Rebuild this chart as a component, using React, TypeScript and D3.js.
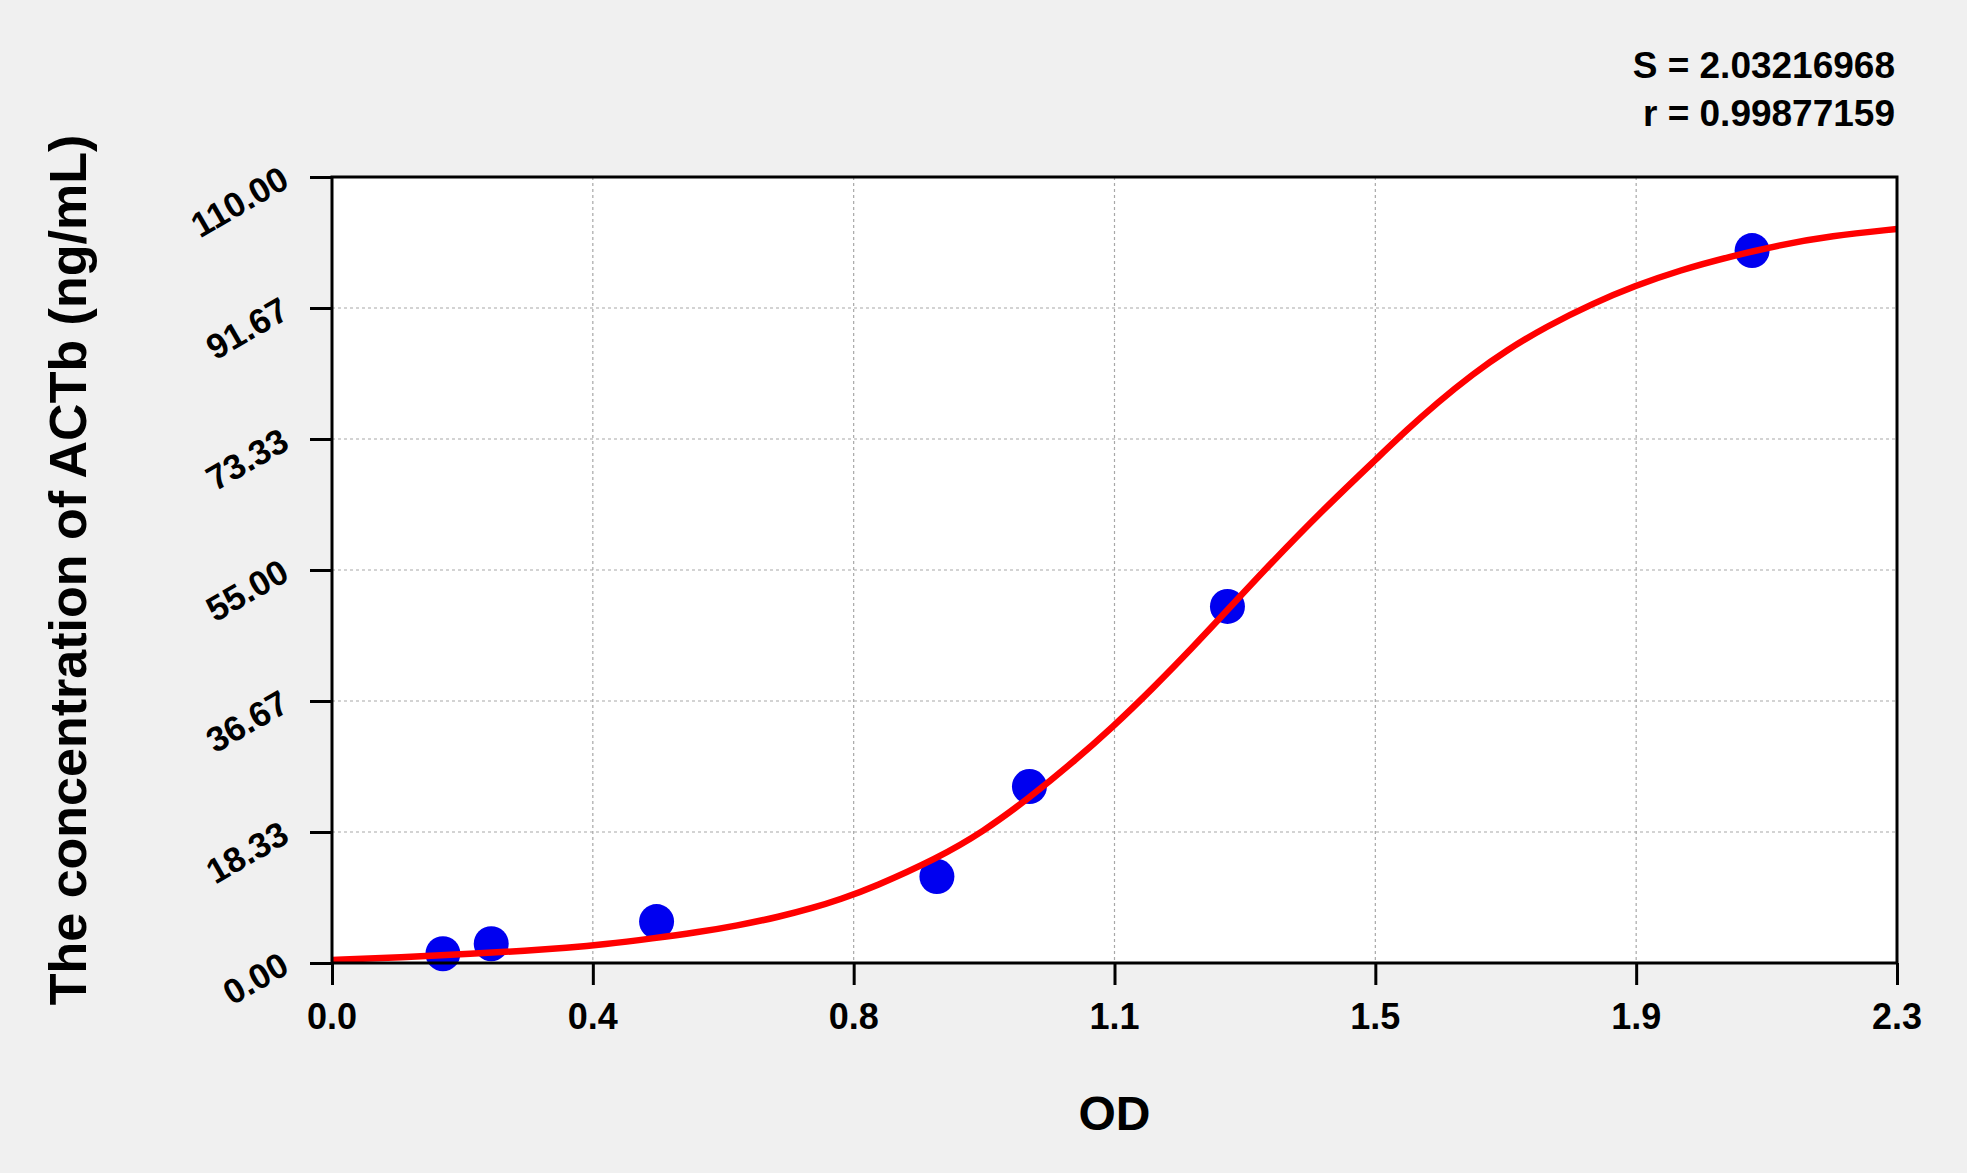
import React, { useEffect, useRef } from "react";
import * as d3 from "d3";

// standards (OD, concentration)
const standardOD = [0.163, 0.234, 0.477, 0.889, 1.025, 1.316, 2.087];
const standardConc = [1.3, 2.7, 5.8, 12.1, 24.7, 49.9, 99.7];

// fitted curve
const curveOD = [
    0.0, 0.1, 0.208, 0.286, 0.345, 0.399, 0.472, 0.536, 0.595, 0.658, 0.707,
    0.747, 0.796, 0.889, 0.957, 1.025, 1.089, 1.147, 1.207, 1.266, 1.315,
    1.374, 1.456, 1.54, 1.579, 1.624, 1.677, 1.726, 1.785, 1.854, 1.915,
    1.981, 2.055, 2.128, 2.202, 2.3,
];
const curveConc = [
    0.42, 0.8, 1.29, 1.72, 2.13, 2.59, 3.45, 4.28, 5.22, 6.48, 7.71,
    8.91, 10.62, 14.62, 18.36, 23.12, 28.1, 32.98, 38.5, 44.28, 49.28,
    55.36, 63.4, 71.0, 74.55, 78.38, 82.46, 85.74, 89.1, 92.34, 94.78,
    96.96, 98.88, 100.49, 101.75, 102.73,
];

const xTickLabels = ["0.0", "0.4", "0.8", "1.1", "1.5", "1.9", "2.3"];
const yTickLabels = ["0.00", "18.33", "36.67", "55.00", "73.33", "91.67", "110.00"];
const statLines = ["S = 2.03216968", "r = 0.99877159"];

const W = 1967;
const H = 1173;
const FONT = "'Liberation Sans', Arial, sans-serif";

const App: React.FC = () => {
    const svgRef = useRef<SVGSVGElement>(null);

    useEffect(() => {
        if (!svgRef.current) return;
        const svg = d3.select(svgRef.current);
        svg.selectAll("*").remove();

        const left = 332, right = 1897, top = 177, bottom = 963;
        const xMax = 2.3, yMax = 110;

        const x = d3.scaleLinear().domain([0, xMax]).range([left, right]);
        const y = d3.scaleLinear().domain([0, yMax]).range([bottom, top]);

        const xMajor = xTickLabels.map((_, i) => (i * xMax) / 6);
        const yMajor = yTickLabels.map((_, i) => (i * yMax) / 6);
        const xMinor = d3.range(0, 25).map((i) => (i * xMax) / 24);
        const yMinor = d3.range(0, 25).map((i) => (i * yMax) / 24);

        svg.append("rect").attr("width", W).attr("height", H).attr("fill", "#f0f0f0");

        // plot area
        svg.append("rect")
            .attr("x", left)
            .attr("y", top)
            .attr("width", right - left)
            .attr("height", bottom - top)
            .attr("fill", "#ffffff");

        // dotted grid
        const grid = svg.append("g")
            .attr("stroke", "#a8a8a8")
            .attr("stroke-width", 1.2)
            .attr("stroke-dasharray", "3,3");
        grid.selectAll(".gx")
            .data(xMajor.slice(1, -1))
            .enter()
            .append("line")
            .attr("x1", (d) => x(d))
            .attr("x2", (d) => x(d))
            .attr("y1", top)
            .attr("y2", bottom);
        grid.selectAll(".gy")
            .data(yMajor.slice(1, -1))
            .enter()
            .append("line")
            .attr("x1", left)
            .attr("x2", right)
            .attr("y1", (d) => y(d))
            .attr("y2", (d) => y(d));

        // standards
        svg.append("g")
            .selectAll("circle")
            .data(standardOD)
            .enter()
            .append("circle")
            .attr("cx", (d) => x(d))
            .attr("cy", (_, i) => y(standardConc[i]))
            .attr("r", 17.5)
            .attr("fill", "#0000f0");

        // fitted curve
        const pts: [number, number][] = curveOD.map((d, i) => [d, curveConc[i]]);
        const line = d3.line<[number, number]>()
            .x((d) => x(d[0]))
            .y((d) => y(d[1]))
            .curve(d3.curveBasis);
        svg.append("path")
            .datum(pts)
            .attr("d", line)
            .attr("fill", "none")
            .attr("stroke", "#ff0000")
            .attr("stroke-width", 6.5)
            .attr("stroke-linejoin", "round");

        // frame
        svg.append("rect")
            .attr("x", left)
            .attr("y", top)
            .attr("width", right - left)
            .attr("height", bottom - top)
            .attr("fill", "none")
            .attr("stroke", "#000")
            .attr("stroke-width", 3);

        // x axis ticks
        const xAxisG = svg.append("g").attr("transform", `translate(0,${bottom})`);
        xAxisG.call(d3.axisBottom(x).tickValues(xMinor).tickSize(15).tickSizeOuter(0).tickFormat(() => ""));
        xAxisG.call(d3.axisBottom(x).tickValues(xMajor).tickSize(22).tickSizeOuter(0).tickFormat(() => ""));
        xAxisG.selectAll("line").attr("stroke", "#000").attr("stroke-width", 3);
        xAxisG.selectAll(".domain").remove();

        svg.append("g")
            .selectAll("text")
            .data(xTickLabels)
            .enter()
            .append("text")
            .attr("x", (_, i) => x(xMajor[i]))
            .attr("y", 1029)
            .attr("text-anchor", "middle")
            .attr("font-family", FONT)
            .attr("font-weight", "bold")
            .attr("font-size", 36)
            .text((d) => d);

        // y axis ticks
        const yAxisG = svg.append("g").attr("transform", `translate(${left},0)`);
        yAxisG.call(d3.axisLeft(y).tickValues(yMinor).tickSize(15).tickSizeOuter(0).tickFormat(() => ""));
        yAxisG.call(d3.axisLeft(y).tickValues(yMajor).tickSize(22).tickSizeOuter(0).tickFormat(() => ""));
        yAxisG.selectAll("line").attr("stroke", "#000").attr("stroke-width", 3);
        yAxisG.selectAll(".domain").remove();

        svg.append("g")
            .selectAll("text")
            .data(yTickLabels)
            .enter()
            .append("text")
            .attr("transform", (_, i) => `translate(291,${y(yMajor[i]) + 9}) rotate(-30)`)
            .attr("text-anchor", "end")
            .attr("font-family", FONT)
            .attr("font-weight", "bold")
            .attr("font-size", 35)
            .text((d) => d);

        // axis titles
        svg.append("text")
            .attr("x", (left + right) / 2)
            .attr("y", 1130)
            .attr("text-anchor", "middle")
            .attr("font-family", FONT)
            .attr("font-weight", "bold")
            .attr("font-size", 48)
            .text("OD");

        svg.append("text")
            .attr("transform", `translate(86,${(top + bottom) / 2}) rotate(-90)`)
            .attr("text-anchor", "middle")
            .attr("font-family", FONT)
            .attr("font-weight", "bold")
            .attr("font-size", 52)
            .text("The concentration of ACTb (ng/mL)");

        // fit statistics
        svg.append("g")
            .selectAll("text")
            .data(statLines)
            .enter()
            .append("text")
            .attr("x", 1895)
            .attr("y", (_, i) => 78 + i * 48)
            .attr("text-anchor", "end")
            .attr("font-family", FONT)
            .attr("font-weight", "bold")
            .attr("font-size", 37)
            .text((d) => d);
    }, []);

    return (
        <svg
            ref={svgRef}
            width={W}
            height={H}
            style={{ position: "absolute", left: 0, top: 0 }}
        />
    );
};

export default App;
